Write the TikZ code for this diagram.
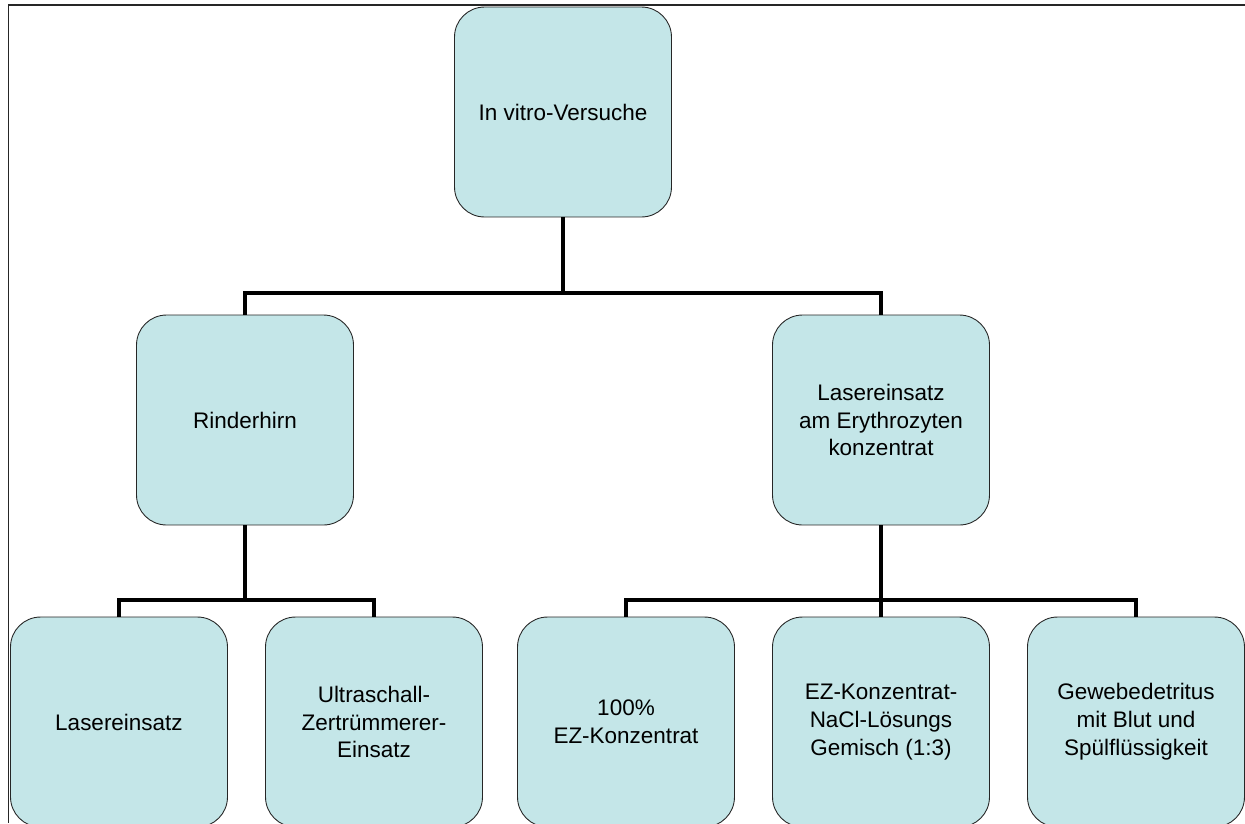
\documentclass[tikz,border=0pt]{standalone}
\usepackage{fontspec}
\setmainfont{Liberation Sans}
\usetikzlibrary{positioning}
\definecolor{boxfill}{RGB}{196,230,232}

\begin{document}
\begin{tikzpicture}[x=0.02cm, y=-0.02cm,
      box/.style={draw=black!85, line width=0.5pt, fill=boxfill, rounded corners=0.6cm, minimum width=4.34cm, minimum height=4.2cm, align=center, font=\fontsize{12.8}{15.9}\selectfont},
      conn/.style={line width=2.7pt, black},
      frame/.style={draw=black!85}]
      \clip (0,0) rectangle (1245,823);
      \draw[frame, line width=1.2pt] (8,5) -- (1245,5);
      \draw[frame, line width=0.5pt] (8,5) -- (8,823);
      \node[box] (versuche) at (563,112) {In vitro-Versuche};
      \node[box] (rinder) at (245,420) {Rinderhirn};
      \node[box] (eryth)  at (881,420) {Lasereinsatz\\am Erythrozyten\\konzentrat};
      \node[box] (laser)  at (119,722) {Lasereinsatz};
      \node[box] (ultra)  at (374,722) {Ultraschall-\\Zertrümmerer-\\Einsatz};
      \node[box] (ezvoll) at (626,722) {100\%\\EZ-Konzentrat};
      \node[box] (eznacl) at (881,722) {EZ-Konzentrat-\\NaCl-Lösungs\\Gemisch (1:3)};
      \node[box] (gewebe) at (1136,722) {Gewebedetritus\\mit Blut und\\Spülflüssigkeit};
      \coordinate (bustop) at (0,293);
      \coordinate (buslow) at (0,600);
      \draw[conn](versuche.south) |- (bustop -| rinder.north) -- (rinder.north);\draw[conn](versuche.south) |- (bustop -| eryth.north) -- (eryth.north);
      \draw[conn](rinder.south) |- (buslow -| laser.north) -- (laser.north);\draw[conn](rinder.south) |- (buslow -| ultra.north) -- (ultra.north);
      \draw[conn](eryth.south) |- (buslow -| ezvoll.north) -- (ezvoll.north);\draw[conn](eryth.south) -- (eznacl.north);\draw[conn](eryth.south) |- (buslow -| gewebe.north) -- (gewebe.north);
    \end{tikzpicture}
\end{document}
